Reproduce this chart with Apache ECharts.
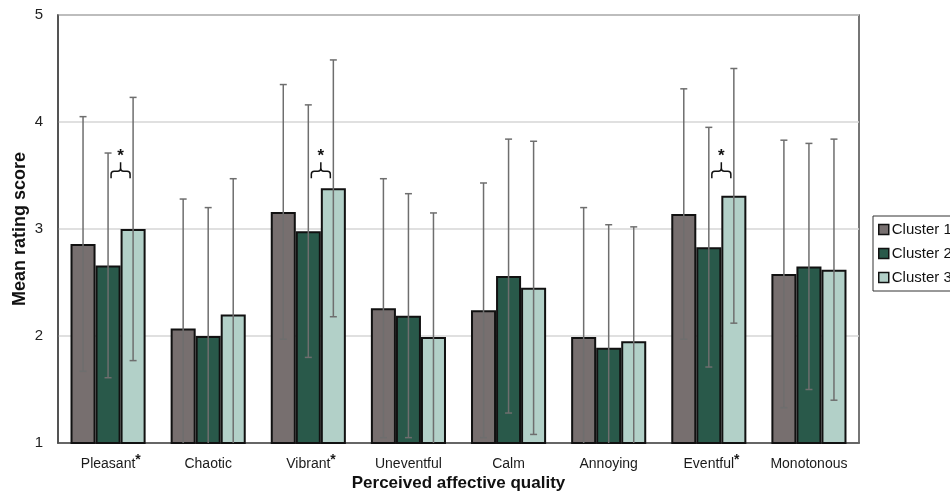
<!DOCTYPE html>
<html>
<head>
<meta charset="utf-8">
<script src="https://cdn.jsdelivr.net/npm/echarts@6/dist/echarts.min.js"></script>
<style>
  html, body { margin: 0; padding: 0; background: #fff; }
  #chart { width: 950px; height: 494px; }
</style>
</head>
<body>
<div id="chart"></div>
<script>
// Perceived affective quality ratings per cluster (mean ± SD)
const categories = ['Pleasant', 'Chaotic', 'Vibrant', 'Uneventful', 'Calm', 'Annoying', 'Eventful', 'Monotonous'];
const significant = ['Pleasant', 'Vibrant', 'Eventful'];   // cluster 2 vs cluster 3, p < .05
const clusterNames = ['Cluster 1', 'Cluster 2', 'Cluster 3'];

const cluster1Mean = [2.86, 2.07, 3.16, 2.26, 2.24, 1.99, 3.14, 2.58];
const cluster2Mean = [2.66, 2.00, 2.98, 2.19, 2.56, 1.89, 2.83, 2.65];
const cluster3Mean = [3.00, 2.20, 3.38, 1.99, 2.45, 1.95, 3.31, 2.62];

const cluster1SD = [1.19, 1.21, 1.19, 1.21, 1.19, 1.21, 1.17, 1.25];
const cluster2SD = [1.05, 1.20, 1.18, 1.14, 1.28, 1.15, 1.12, 1.15];
const cluster3SD = [1.23, 1.27, 1.20, 1.16, 1.37, 1.07, 1.19, 1.22];

const yTicks = [1, 2, 3, 4, 5];
const bracketLevel = 3.54;

const means = [cluster1Mean, cluster2Mean, cluster3Mean];
const sds = [cluster1SD, cluster2SD, cluster3SD];
const colors = ['#776f6f', '#29594a', '#b2d0c8'];
const BAR_FRACTION = 0.25;
const FONT = '"Liberation Sans", Arial, sans-serif';

const chart = echarts.init(document.getElementById('chart'), null, { renderer: 'canvas' });

const barSeries = clusterNames.map((name, i) => ({
  name: name,
  type: 'bar',
  data: means[i],
  barWidth: '25%',
  barGap: '0%',
  itemStyle: { color: colors[i], borderColor: '#111', borderWidth: 2 },
  z: 2
}));

// Error bars, shifted to sit on the centre of each cluster's bar
const errorSeries = clusterNames.map((name, i) => ({
  name: name + ' SD',
  type: 'custom',
  clip: true,
  z: 3,
  data: means[i].map((m, k) => [k, m - sds[i][k], m + sds[i][k]]),
  renderItem: function (params, api) {
    const band = api.size([1, 0])[0];
    const offset = (i - 1) * band * BAR_FRACTION;
    const lo = api.coord([api.value(0), api.value(1)]);
    const hi = api.coord([api.value(0), api.value(2)]);
    const x = lo[0] + offset;
    const cap = 3.5;
    const style = { stroke: '#6e6e6e', lineWidth: 1.5 };
    return {
      type: 'group',
      children: [
        { type: 'line', shape: { x1: x, y1: lo[1], x2: x, y2: hi[1] }, style: style },
        { type: 'line', shape: { x1: x - cap, y1: hi[1], x2: x + cap, y2: hi[1] }, style: style },
        { type: 'line', shape: { x1: x - cap, y1: lo[1], x2: x + cap, y2: lo[1] }, style: style }
      ]
    };
  }
}));

// Significance brackets between cluster 2 and cluster 3
const bracketSeries = {
  name: 'significance',
  type: 'custom',
  z: 4,
  data: significant.map(c => [categories.indexOf(c), bracketLevel]),
  renderItem: function (params, api) {
    const p = api.coord([api.value(0), api.value(1)]);
    const band = api.size([1, 0])[0];
    const cx = p[0] + band * BAR_FRACTION * 0.5;
    const y = p[1];
    const half = 9.5, drop = 7, rise = 9, r = 3;
    const path =
      'M' + (cx - half) + ' ' + (y + drop) +
      ' L' + (cx - half) + ' ' + (y + r) +
      ' Q' + (cx - half) + ' ' + y + ' ' + (cx - half + r) + ' ' + y +
      ' L' + (cx - r) + ' ' + y +
      ' Q' + cx + ' ' + y + ' ' + cx + ' ' + (y - r) +
      ' L' + cx + ' ' + (y - rise) +
      ' M' + cx + ' ' + (y - r) +
      ' Q' + cx + ' ' + y + ' ' + (cx + r) + ' ' + y +
      ' L' + (cx + half - r) + ' ' + y +
      ' Q' + (cx + half) + ' ' + y + ' ' + (cx + half) + ' ' + (y + r) +
      ' L' + (cx + half) + ' ' + (y + drop);
    return {
      type: 'group',
      children: [
        { type: 'path', shape: { pathData: path }, style: { fill: null, stroke: '#111', lineWidth: 1.5 } },
        { type: 'text', x: cx, y: y - 15, style: { text: '*', fill: '#111', font: 'bold 17px ' + FONT, align: 'center', verticalAlign: 'middle' } }
      ]
    };
  }
};

// Category label; a hidden leading star keeps the word itself centred under its group
const categoryLabel = v => significant.includes(v)
  ? '{h|*}{a|' + v + '}{s|*}'
  : '{a|' + v + '}';

const option = {
  animation: false,
  backgroundColor: '#fff',
  textStyle: { fontFamily: FONT },
  grid: {
    left: 58, right: 91, top: 15, bottom: 51,
    containLabel: false,
    outerBoundsMode: 'none',
    show: true, borderColor: '#4a4a4a', borderWidth: 1.5, backgroundColor: 'transparent'
  },
  legend: {
    orient: 'vertical',
    left: 873, top: 216,
    data: clusterNames,
    icon: 'rect',
    itemWidth: 10, itemHeight: 10, itemGap: 9,
    padding: [6, 10, 6, 5],
    borderColor: '#333', borderWidth: 1,
    textStyle: { fontSize: 15, color: '#111', padding: [0, 0, 0, -2] },
    itemStyle: { borderColor: '#111', borderWidth: 1.5 }
  },
  xAxis: {
    type: 'category',
    data: categories,
    axisTick: { show: false },
    axisLine: { show: true, lineStyle: { color: '#4a4a4a', width: 1.5 } },
    axisLabel: {
      interval: 0,
      margin: 10,
      formatter: categoryLabel,
      rich: {
        a: { fontSize: 14, color: '#1a1a1a', lineHeight: 18, verticalAlign: 'bottom' },
        h: { fontSize: 14, color: 'rgba(0,0,0,0)', fontWeight: 'bold', lineHeight: 18, verticalAlign: 'bottom' },
        s: { fontSize: 14, color: '#1a1a1a', fontWeight: 'bold', lineHeight: 18, verticalAlign: 'top' }
      }
    },
    name: 'Perceived affective quality',
    nameLocation: 'middle',
    nameMoveOverlap: false,
    nameGap: 32,
    nameTextStyle: { fontSize: 17, fontWeight: 'bold', color: '#111' }
  },
  yAxis: {
    type: 'value',
    min: yTicks[0], max: yTicks[yTicks.length - 1], interval: 1,
    axisLine: { show: true, lineStyle: { color: '#4a4a4a', width: 1.5 } },
    axisTick: { show: false },
    axisLabel: { fontSize: 15, color: '#222', margin: 15 },
    splitLine: { lineStyle: { color: '#d6d6d6', width: 1.5 } },
    name: 'Mean rating score',
    nameLocation: 'middle',
    nameMoveOverlap: false,
    nameGap: 29,
    nameTextStyle: { fontSize: 18, fontWeight: 'bold', color: '#111' }
  },
  series: [...barSeries, ...errorSeries, bracketSeries]
};

chart.setOption(option);
</script>
</body>
</html>
